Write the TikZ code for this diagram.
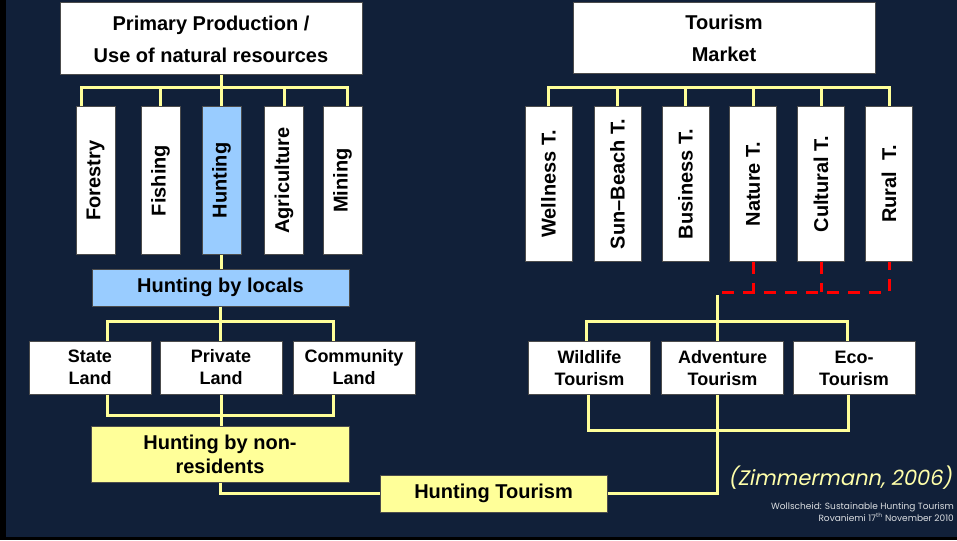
\documentclass[tikz,border=0pt]{standalone}
\usepackage{fontspec}
\usepackage{graphicx}
\setmainfont{Liberation Sans}
\newfontfamily\notefont[FakeSlant=0.2]{Poppins}
\newfontfamily\footfont{Poppins}
\definecolor{navy}{HTML}{112039}
\definecolor{busyellow}{HTML}{FFFF99}
\definecolor{huntblue}{HTML}{99CCFF}
\definecolor{noteyellow}{HTML}{FFFFAA}
\tikzset{
  box/.style={draw=black!70,line width=1pt,fill=white,inner sep=0pt,align=center,
    font=\bfseries\fontsize{20}{32}\selectfont},
  landbox/.style={box,minimum width=122pt,minimum height=53pt,
    font=\bfseries\fontsize{18}{22}\selectfont},
  bus/.style={draw=busyellow,line width=3pt},
  reddash/.style={draw=red,line width=3pt,dash pattern=on 12pt off 9pt},
}
\begin{document}
\begin{tikzpicture}[x=1pt,y=-1pt]
\useasboundingbox (0,0) rectangle (957,540);
\fill[navy] (0,0) rectangle (957,540);
\fill[black] (0,0) rectangle (6,540);
\fill[black] (0,537) rectangle (957,540);

\node[box,minimum width=302pt,minimum height=72pt] (prim) at (211,39) {Primary Production /\\Use of natural resources};
\foreach \name/\x/\txt in {forestry/95.5/Forestry,fishing/160.5/Fishing,agri/284/Agriculture,mining/342.5/Mining}
  \node[box,minimum width=39pt,minimum height=147pt] (\name) at (\x,180.5) {\rotatebox{90}{\txt}};
\node[box,fill=huntblue,minimum width=39pt,minimum height=147pt] (hunting) at (221.5,180.5) {\rotatebox{90}{Hunting}};
\node[box,fill=huntblue,minimum width=257pt,minimum height=37pt] (locals) at (220.5,287.5) {Hunting by locals};
\node[landbox] (state) at (90,367.5) {State\\Land};
\node[landbox] (private) at (221,367.5) {Private\\Land};
\node[landbox] (community) at (354,367.5) {Community\\Land};
\node[box,fill=busyellow,minimum width=258pt,minimum height=56pt,font=\bfseries\fontsize{20}{24}\selectfont] (nonres) at (220,454) {Hunting by non-\\residents};
\node[box,fill=busyellow,minimum width=227pt,minimum height=37pt] (ht) at (493.5,493.5) {Hunting Tourism};

\node[box,minimum width=302pt,minimum height=71pt] (market) at (724,38.5) {Tourism\\Market};
\foreach \name/\x/\txt in {wellness/548.5/Wellness T.,sunbeach/617.5/Sun--Beach T.,business/685.5/Business T.,nature/753/Nature T.,cultural/821/Cultural T.,rural/889/Rural\ \ T.}
  \node[box,minimum width=47pt,minimum height=154pt] (\name) at (\x,184) {\rotatebox{90}{\txt}};
\node[landbox] (wildlife) at (589.5,368) {Wildlife\\Tourism};
\node[landbox] (adventure) at (722.5,368) {Adventure\\Tourism};
\node[landbox] (eco) at (854,368) {Eco-\\Tourism};

\coordinate (lbus) at (0,88);
\coordinate (fd) at ([xshift=-14.5pt]forestry.north);
\coordinate (md) at ([xshift=4.5pt]mining.north);
\draw[bus] (hunting.north |- prim.south) -- (hunting.north);
\draw[bus] (fd) -- (fd |- lbus) -- (md |- lbus) -- (md);
\foreach \n in {fishing,agri}
  \draw[bus] (\n.north) -- (\n.north |- lbus);
\draw[bus] (hunting.south) -- (hunting.south |- locals.north);

\coordinate (lbus2) at (0,321);
\coordinate (lbus3) at (0,415);
\coordinate (sd) at ([xshift=17pt]state.north);
\coordinate (cd) at ([xshift=-21pt]community.north);
\coordinate (su) at ([xshift=17pt]state.south);
\coordinate (cu) at ([xshift=-21pt]community.south);
\draw[bus] (locals.south) -- (locals.south |- private.north);
\draw[bus] (sd) -- (sd |- lbus2) -- (cd |- lbus2) -- (cd);
\draw[bus] (su) -- (su |- lbus3) -- (cu |- lbus3) -- (cu);
\draw[bus] (private.south) -- (private.south |- nonres.north);
\draw[bus] (nonres.south) |- (ht.west);

\coordinate (rbus) at (0,88);
\draw[bus] (wellness.north) -- (wellness.north |- rbus) -- (rural.north |- rbus) -- (rural.north);
\foreach \n in {sunbeach,business,nature,cultural}
  \draw[bus] (\n.north) -- (\n.north |- rbus);

\coordinate (rj) at (722,292);
\draw[reddash] (rj) -| (rural.south);
\draw[reddash] (nature.south) -- (nature.south |- rj);
\draw[reddash] (cultural.south) -- (cultural.south |- rj);

\coordinate (tj) at (717,295);
\coordinate (rbus2) at (0,321);
\coordinate (rbus3) at (0,430);
\coordinate (wd) at ([xshift=-3.5pt]wildlife.north);
\coordinate (ed) at ([xshift=-7pt]eco.north);
\coordinate (wu) at ([xshift=-1.5pt]wildlife.south);
\coordinate (eu) at ([xshift=-6pt]eco.south);
\draw[bus] (tj) -- (tj |- adventure.north);
\draw[bus] (wd) -- (wd |- rbus2) -- (ed |- rbus2) -- (ed);
\draw[bus] (wu) -- (wu |- rbus3) -- (eu |- rbus3) -- (eu);
\draw[bus] (tj |- adventure.south) -- (tj |- rbus3);
\draw[bus] (ht.east) -| (tj |- rbus3);

\node[text=noteyellow,font=\notefont\fontsize{21}{24}\selectfont] (cite) at (840,478) {(Zimmermann, 2006)};
\node[text=white!85!navy,font=\footfont\fontsize{9}{12}\selectfont,align=right,anchor=north east,inner sep=0pt] (foot) at (954,502) {Wollscheid: Sustainable Hunting Tourism\\Rovaniemi 17\textsuperscript{th} November 2010};
\end{tikzpicture}
\end{document}
